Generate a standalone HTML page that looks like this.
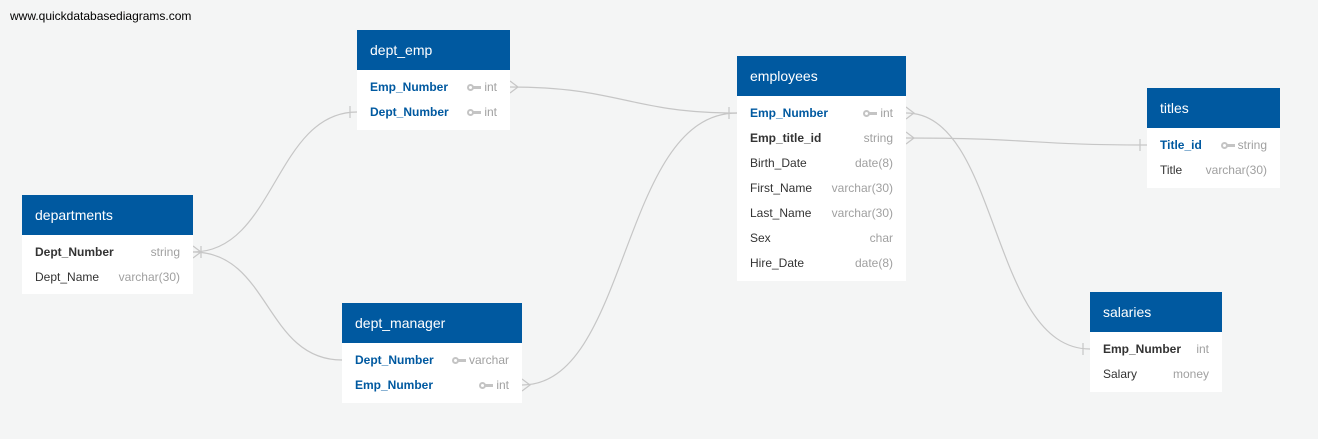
<!DOCTYPE html>
<html><head><style>
body{margin:0;width:1318px;height:439px;background:#f4f5f5;font-family:"Liberation Sans",sans-serif;position:relative;overflow:hidden}
.t{position:absolute;background:#fff}
.h{background:#0059a0;color:#fff;font-size:14px;height:40px;line-height:40px;padding-left:13px}
.r{height:25px;line-height:25px;font-size:12px;padding:0 13px;position:relative;color:#333}
.r .y{position:absolute;right:13px;top:0;color:#a0a0a0;font-weight:normal}
.k{color:#0059a0;font-weight:bold}
.b{font-weight:bold;color:#333}
.key{display:inline-block;width:13px;height:6px;position:relative;margin-right:4px;vertical-align:middle}
.key:before{content:"";position:absolute;left:0;top:-1px;border:2px solid #c4c4c4;border-radius:50%;box-sizing:content-box;width:3px;height:3px}
.key:after{content:"";position:absolute;left:6px;top:1px;width:8px;height:3px;background:#c4c4c4}
</style></head><body>
<div style="position:absolute;left:10px;top:9px;font-size:12px;color:#000">www.quickdatabasediagrams.com</div>
<svg width="1318" height="439" style="position:absolute;left:0;top:0" fill="none" stroke="#c6c6c6" stroke-width="1.2">
<path d="M193 252 C275 252 275 112 357 112"/>
<path d="M193 252 C270 252 265 360 342 360"/>
<path d="M510 87 C620 87 630 113 737 113"/>
<path d="M522 385 C630 385 620 113 737 113"/>
<path d="M906 113 C1000 113 990 349 1090 349"/>
<path d="M906 138 C1030 138 1030 145 1147 145"/>
<path d="M193 246 L201 252 L193 258 M201 246 V258"/>
<path d="M350 106 V118"/>
<path d="M350 354 L342 360 L350 366"/>
<path d="M510 81 L518 87 L510 93"/>
<path d="M522 379 L530 385 L522 391"/>
<path d="M729 107 V119"/>
<path d="M906 107 L914 113 L906 119"/>
<path d="M906 132 L914 138 L906 144"/>
<path d="M1140 139 V151"/>
<path d="M1083 343 V355"/>
</svg>
<div class="t" style="left:357px;top:30px;width:153px;height:100px"><div class="h">dept_emp</div>
<div class="r k" style="margin-top:5px">Emp_Number<span class="y"><span class="key"></span>int</span></div>
<div class="r k">Dept_Number<span class="y"><span class="key"></span>int</span></div></div>
<div class="t" style="left:737px;top:56px;width:169px;height:225px"><div class="h">employees</div>
<div class="r k" style="margin-top:5px">Emp_Number<span class="y"><span class="key"></span>int</span></div>
<div class="r b">Emp_title_id<span class="y">string</span></div>
<div class="r">Birth_Date<span class="y">date(8)</span></div>
<div class="r">First_Name<span class="y">varchar(30)</span></div>
<div class="r">Last_Name<span class="y">varchar(30)</span></div>
<div class="r">Sex<span class="y">char</span></div>
<div class="r">Hire_Date<span class="y">date(8)</span></div></div>
<div class="t" style="left:1147px;top:88px;width:133px;height:100px"><div class="h">titles</div>
<div class="r k" style="margin-top:5px">Title_id<span class="y"><span class="key"></span>string</span></div>
<div class="r">Title<span class="y">varchar(30)</span></div></div>
<div class="t" style="left:22px;top:195px;width:171px;height:99px"><div class="h">departments</div>
<div class="r b" style="margin-top:5px">Dept_Number<span class="y">string</span></div>
<div class="r">Dept_Name<span class="y">varchar(30)</span></div></div>
<div class="t" style="left:342px;top:303px;width:180px;height:100px"><div class="h">dept_manager</div>
<div class="r k" style="margin-top:5px">Dept_Number<span class="y"><span class="key"></span>varchar</span></div>
<div class="r k">Emp_Number<span class="y"><span class="key"></span>int</span></div></div>
<div class="t" style="left:1090px;top:292px;width:132px;height:100px"><div class="h">salaries</div>
<div class="r b" style="margin-top:5px">Emp_Number<span class="y">int</span></div>
<div class="r">Salary<span class="y">money</span></div></div>
</body></html>
